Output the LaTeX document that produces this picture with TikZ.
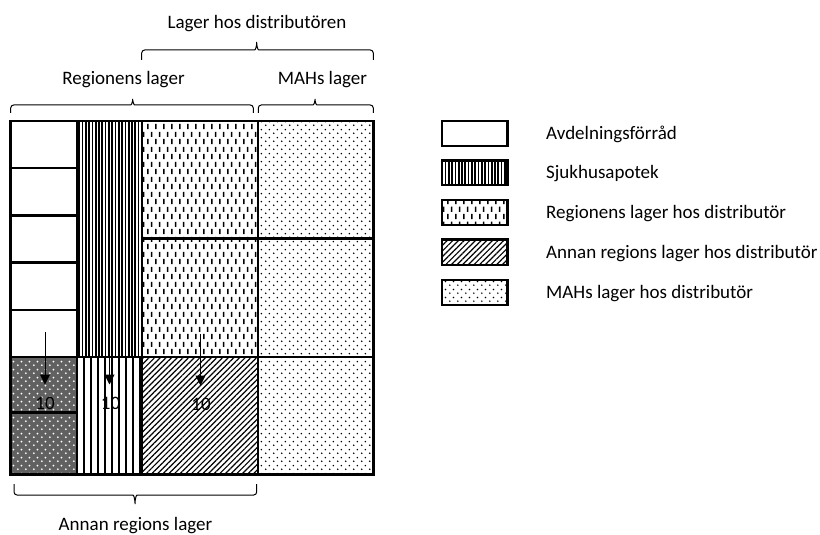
\documentclass[tikz,border=0pt]{standalone}
\usepackage{fontspec}
\setmainfont{Carlito}
\usetikzlibrary{patterns.meta,arrows.meta}

\tikzdeclarepattern{
  name=vdash,
  bounding box={(0,0) and (7.7bp,15bp)},
  tile size={(7.7bp,15bp)},
  code={
    \fill (1.1bp,1bp) rectangle (2.7bp,6.5bp);
    \fill (4.95bp,8.5bp) rectangle (6.55bp,14bp);
  }}
\tikzdeclarepattern{
  name=mahdots,
  bounding box={(0,0) and (8bp,8bp)},
  tile size={(8bp,8bp)},
  code={
    \fill (2bp,2bp) circle (0.95bp);
    \fill (6bp,6bp) circle (0.95bp);
  }}
\tikzdeclarepattern{
  name=whitedots,
  bounding box={(0,0) and (8bp,8bp)},
  tile size={(8bp,8bp)},
  code={
    \fill (2bp,2bp) circle (1.1bp);
    \fill (6bp,6bp) circle (1.1bp);
  }}

\newcommand\mybrace[6]{% x1 x2 xm yEnd yLine yTip
  \draw[brc] (#1,#4) -- (#1,#5) -- ({#3-5},#5)
    .. controls ({#3-1},#5) and (#3,{(#5+#6)/2}) .. (#3,#6)
    .. controls (#3,{(#5+#6)/2}) and ({#3+1},#5) .. ({#3+5},#5)
    -- (#2,#5) -- (#2,#4);}

\begin{document}
\begin{tikzpicture}[x=1bp,y=-1bp,
  font=\fontsize{19bp}{22bp}\selectfont,
  grid/.style={line width=2.3bp},
  brc/.style={line width=1bp, rounded corners=3bp},
  arr/.style={line width=1bp, -{Triangle[width=10bp,length=10bp]}},
  lbl/.style={inner sep=0pt, anchor=base},
  leg/.style={inner sep=0pt, anchor=base west},
  legbox/.style={line width=2.2bp},
  sjuk/.style={pattern={Lines[angle=90,distance=3.3bp,line width=1.7bp]}},
  sjuklight/.style={pattern={Lines[angle=90,distance=7bp,line width=1.4bp]}},
  hatch/.style={pattern={Lines[angle=45,distance=4bp,line width=1.2bp]}},
  regdash/.style={pattern=vdash},
  mah/.style={pattern=mahdots},
  darkcell/.style={fill=black!62, postaction={pattern=whitedots, pattern color=white}}
]
\useasboundingbox (0,0) rectangle (820,535);

% ---- cell fills ----
\path[sjuk] (76.7,121) rectangle (141.7,356.7);
\path[regdash] (141.7,121) rectangle (257.7,356.7);
\path[mah] (257.7,121) rectangle (373.5,474.5);
\path[darkcell] (10.5,356.7) rectangle (76.7,474.5);
\path[sjuklight] (76.7,356.7) rectangle (141.7,474.5);
\path[hatch] (141.7,356.7) rectangle (257.7,474.5);

% ---- grid lines ----
\draw[grid] (10.5,121) rectangle (373.5,474.5);
\draw[grid] (76.7,121) -- (76.7,474.5);
\draw[grid] (141.7,121) -- (141.7,474.5);
\draw[grid] (257.7,121) -- (257.7,474.5);
\draw[grid] (10.5,168.2) -- (76.7,168.2);
\draw[grid] (10.5,215.4) -- (76.7,215.4);
\draw[grid] (10.5,262.6) -- (76.7,262.6);
\draw[grid] (10.5,309.8) -- (76.7,309.8);
\draw[grid] (10.5,356.7) -- (373.5,356.7);
\draw[grid] (141.7,238.5) -- (373.5,238.5);
\draw[grid] (10.5,412.5) -- (76.7,412.5);

% ---- arrows and labels ----
\coordinate (a1s) at (45,332);   \coordinate (a1e) at (45,384.5);
\coordinate (a2s) at (109.5,333); \coordinate (a2e) at (109.5,384.5);
\coordinate (a3s) at (200.5,334); \coordinate (a3e) at (200.5,385.5);
\draw[arr] (a1s) -- (a1e);
\draw[arr] (a2s) -- (a2e);
\draw[arr] (a3s) -- (a3e);
\node[lbl] (n1) at (45,409) {10};
\node[lbl] (n2) at (110.5,409) {10};
\node[lbl] (n3) at (201,410) {10};

% ---- braces and their texts ----
\mybrace{141.7}{373.3}{256.7}{60}{50}{40}
\mybrace{10.7}{253.3}{132.7}{113}{105}{97}
\mybrace{258.3}{373.3}{315}{113}{105}{97}
\mybrace{14}{256.7}{135}{484}{495}{506}
\node[lbl] (tdist) at (257,28.5) {Lager hos distributören};
\node[lbl] (treg) at (123.5,85) {Regionens lager};
\node[lbl] (tmah) at (322.5,85) {MAHs lager};
\node[lbl] (tann) at (135.5,530) {Annan regions lager};

% ---- legend ----
\draw[legbox] (442,121) rectangle (507.5,146);
\path[sjuk] (442,160.5) rectangle (507.5,185);
\draw[legbox] (442,160.5) rectangle (507.5,185);
\path[regdash] (442,200) rectangle (507.5,225);
\draw[legbox] (442,200) rectangle (507.5,225);
\path[hatch] (442,239.5) rectangle (507.5,265);
\draw[legbox] (442,239.5) rectangle (507.5,265);
\path[mah] (442,280) rectangle (507.5,305);
\draw[legbox] (442,280) rectangle (507.5,305);
\node[leg] (l1) at (546,140) {Avdelningsförråd};
\node[leg] (l2) at (546,179) {Sjukhusapotek};
\node[leg] (l3) at (546,218.5) {Regionens lager hos distributör};
\node[leg] (l4) at (546,258.5) {Annan regions lager hos distributör};
\node[leg] (l5) at (546,299) {MAHs lager hos distributör};
\end{tikzpicture}
\end{document}
